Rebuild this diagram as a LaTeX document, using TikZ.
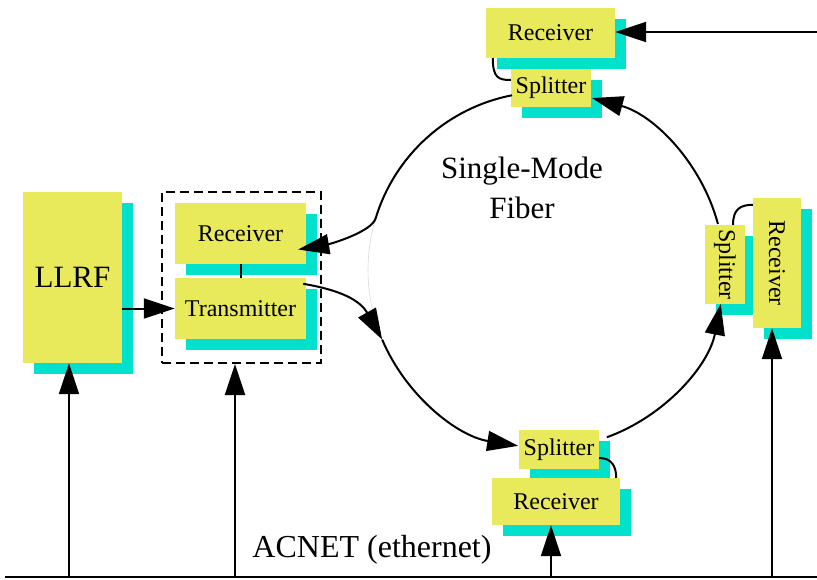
\documentclass[tikz,border=0pt]{standalone}
\usepackage{fontspec}
\setmainfont{Liberation Serif}
\usetikzlibrary{arrows.meta,shadows}
\definecolor{boxyellow}{RGB}{233,233,92}
\definecolor{boxcyan}{RGB}{0,224,202}
\begin{document}
\begin{tikzpicture}[x=1pt,y=-1pt,
  box/.style={fill=boxyellow, inner sep=0pt, font=\fontsize{24}{28}\selectfont,
    drop shadow={shadow xshift=11pt, shadow yshift=-11pt, fill=boxcyan, opacity=1}},
  arr/.style={line width=2pt, -{Triangle[length=31pt,width=20pt]}},
  link/.style={line width=2pt},
  dashbox/.style={draw, line width=2pt, dash pattern=on 9pt off 5pt}]
    \useasboundingbox (0,0) rectangle (817,579);

    % LLRF and the transceiver card
    \node[box, minimum width=99pt, minimum height=171pt,
          font=\fontsize{31}{36}\selectfont] (llrf) at (72.5,277.5) {LLRF};
    \node[dashbox, minimum width=159pt, minimum height=171pt] (trx) at (241.5,277.5) {};
    \node[box, minimum width=131pt, minimum height=61pt] (rxl) at (240.5,233.5) {Receiver};
    \node[box, minimum width=131pt, minimum height=61pt] (tx) at (240.5,308.5) {Transmitter};

    % Taps on the ring
    \node[box, minimum width=129pt, minimum height=50pt] (rxt) at (550.5,33) {Receiver};
    \node[box, minimum width=80pt, minimum height=38pt] (spt) at (551,88) {Splitter};
    \node[box, minimum width=40pt, minimum height=79pt] (spr) at (725,264.5) {\rotatebox{-90}{Splitter}};
    \node[box, minimum width=48pt, minimum height=130pt] (rxr) at (777,263) {\rotatebox{-90}{Receiver}};
    \node[box, minimum width=80pt, minimum height=39pt] (spb) at (559,449.5) {Splitter};
    \node[box, minimum width=128pt, minimum height=47pt] (rxb) at (556,501.5) {Receiver};

    % Labels
    \node[align=center, font=\fontsize{31}{40}\selectfont] (fiber) at (522,188) {Single-Mode\\Fiber};
    \node[font=\fontsize{32}{36}\selectfont] (acnet) at (372,550) {ACNET (ethernet)};

    % Fiber ring
    \coordinate (ring) at (546,270);
    \draw[gray!30, line width=0.6pt] ([shift={(197:178)}]ring) arc[start angle=197, end angle=157, radius=178];
    \draw[arr] ([shift={(259:178)}]ring) arc[start angle=259, end angle=197, radius=178]
          .. controls (372,232) and (330,244) .. ([shift={(-8,16)}]rxl.east);
    \draw[arr] ([shift={(-3,6)}]tx.north east) .. controls (340,290) and (360,300) .. ([shift={(157:178)}]ring);
    \draw[arr] ([shift={(157:178)}]ring) arc[start angle=157, end angle=99, radius=178];
    \draw[arr] ([shift={(70:178)}]ring) arc[start angle=70, end angle=11, radius=178];
    \draw[arr] ([shift={(345:178)}]ring) arc[start angle=345, end angle=285, radius=178];

    % Splitter to receiver links
    \draw[link] ([xshift=7pt]rxt.south west) .. controls +(0,20) and +(-12,0) .. ([shift={(0,-8)}]spt.west);
    \draw[link] ([xshift=8pt]spr.north) .. controls +(0,-16) and +(-12,0) .. ([shift={(0,7)}]rxr.north west);
    \draw[link] ([shift={(0,8.5)}]spb.east) .. controls +(12,0) and +(0,-12) .. ([xshift=-4pt]rxb.north east);
    \draw[link] (rxl.south) -- (tx.north);

    % Signal paths
    \coordinate (feed) at (817,32);
    \draw[arr] (feed) -- (rxt.east |- feed);
    \draw[arr] (llrf.east |- tx.west) -- (tx.west);

    % ACNET bus
    \coordinate (bus w) at (5,577);
    \coordinate (bus e) at (817,577);
    \draw[line width=2.6pt] (bus w) -- (bus e);
    \foreach \n/\dx in {llrf/-3.5, trx/-6.5, rxb/-5, rxr/-5} {
      \draw[arr] ([xshift=\dx pt]\n.south |- bus w) -- ([xshift=\dx pt]\n.south);
    }
\end{tikzpicture}
\end{document}
